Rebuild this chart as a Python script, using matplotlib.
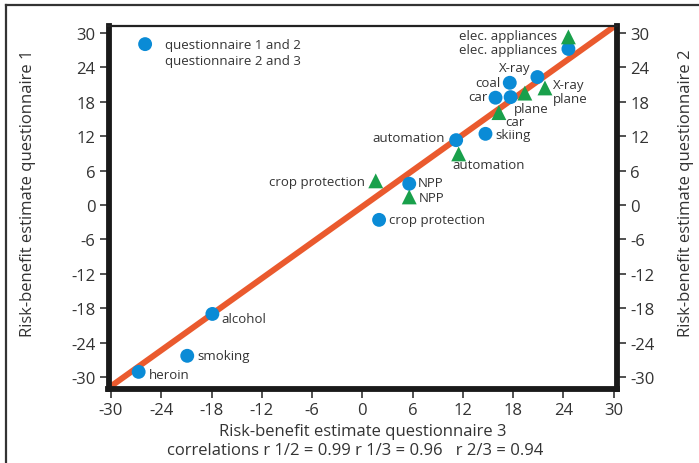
import matplotlib
matplotlib.use("Agg")
import matplotlib.pyplot as plt
from matplotlib.lines import Line2D

plt.rcParams['font.family'] = ['Open Sans', 'DejaVu Sans']

# questionnaire 3 (x) vs questionnaire 1 (y)
blue_labels = ["heroin", "smoking", "alcohol", "crop protection", "NPP",
               "automation", "skiing", "car", "coal", "plane", "X-ray",
               "elec. appliances"]
blue_q3 = [-26.7, -20.9, -17.9, 2.0, 5.6, 11.2, 14.7, 15.9, 17.6, 17.7, 20.9, 24.6]
blue_q1 = [-29.1, -26.3, -19.0, -2.6, 3.7, 11.3, 12.4, 18.7, 21.3, 18.8, 22.3, 27.2]

# questionnaire 3 (x) vs questionnaire 2 (y)
green_labels = ["elec. appliances", "X-ray", "plane", "car", "automation",
                "crop protection", "NPP"]
green_q3 = [24.6, 21.8, 19.4, 16.3, 11.5, 1.6, 5.6]
green_q2 = [29.3, 20.4, 19.5, 16.1, 8.9, 4.2, 1.4]

fit_x = [-30, 30]
fit_y = [-31.6, 31.05]

tick_values = list(range(-30, 31, 6))

# label offsets in pixels (dx, dy, ha)
blue_offsets = [(10, -3, 'left'), (10, 0, 'left'), (9, -5, 'left'),
                (10, 0, 'left'), (9, 1, 'left'), (-11, 3, 'right'),
                (10, -1, 'left'), (-8, 1, 'right'), (-9, 0, 'right'),
                (3, -11, 'left'), (-7, 10, 'right'), (-11, -1, 'right')]
green_offsets = [(-11, 1, 'right'), (8, 3, 'left'), (28, -5, 'left'),
                 (6, -9, 'left'), (-6, -11, 'left'), (-11, -1, 'right'),
                 (10, -1, 'left')]

W, H = 699, 464
fig = plt.figure(figsize=(W / 100, H / 100), dpi=100)
ax = fig.add_axes([108.5 / W, 1 - 389.5 / H, 508.5 / W, 362.5 / H])

txt = '#333333'
blue = '#0A8BD6'
green = '#19A04B'
orange = '#EA5A2E'

ax.plot(fit_x, fit_y, color=orange, lw=4.3, solid_capstyle='butt', zorder=2)
ax.scatter(blue_q3, blue_q1, s=100, color=blue, edgecolors='none', zorder=3)
ax.scatter(green_q3, green_q2, s=115, marker='^', color=green,
           edgecolors='none', zorder=3)

px = 0.72
for lab, x, y, (dx, dy, ha) in zip(blue_labels, blue_q3, blue_q1, blue_offsets):
    ax.annotate(lab, (x, y), xytext=(dx * px, dy * px), textcoords='offset points',
                ha=ha, va='center', fontsize=9.5, color=txt, zorder=4)
for lab, x, y, (dx, dy, ha) in zip(green_labels, green_q3, green_q2, green_offsets):
    ax.annotate(lab, (x, y), xytext=(dx * px, dy * px), textcoords='offset points',
                ha=ha, va='center', fontsize=9.5, color=txt, zorder=4)

ax.set_xlim(-30.3, 30.4)
ax.set_ylim(-32.0, 31.2)
ax.set_xticks(tick_values)
ax.set_yticks(tick_values)
ax.set_xticklabels([str(v) for v in tick_values])
ax.set_yticklabels([str(v) for v in tick_values])
for t in ax.get_xticklabels():
    if t.get_text() == '0':
        t.set_fontsize(14.5)

ax.tick_params(axis='both', direction='out', length=6.5, width=1.2,
               color=txt, labelcolor=txt, labelsize=12, pad=3)
ax.tick_params(axis='y', right=True, labelright=True)

for side in ['left', 'bottom', 'right']:
    ax.spines[side].set_linewidth(4.2)
    ax.spines[side].set_color('#1a1a1a')
ax.spines['top'].set_linewidth(1.6)
ax.spines['top'].set_color('#222222')

# legend
ax.scatter([0.072], [0.950], s=100, color=blue, edgecolors='none',
           transform=ax.transAxes, clip_on=False, zorder=3)
ax.text(0.111, 0.950, "questionnaire 1 and 2", transform=ax.transAxes,
        ha='left', va='center', fontsize=9.5, color=txt)
ax.text(0.111, 0.906, "questionnaire 2 and 3", transform=ax.transAxes,
        ha='left', va='center', fontsize=9.5, color=txt)

fig.text(28 / W, 1 - 193 / H, "Risk-benefit estimate questionnaire 1",
         rotation=90, ha='center', va='center', fontsize=12, color=txt)
fig.text(686 / W, 1 - 193 / H, "Risk-benefit estimate questionnaire 2",
         rotation=90, ha='center', va='center', fontsize=12, color=txt)
fig.text(363 / W, 1 - 432 / H, "Risk-benefit estimate questionnaire 3",
         ha='center', va='center', fontsize=12, color=txt)
fig.text(355 / W, 1 - 451 / H,
         "correlations r 1/2 = 0.99 r 1/3 = 0.96   r 2/3 = 0.94",
         ha='center', va='center', fontsize=12, color=txt)

# outer frame
fig.add_artist(Line2D([6 / W, 6 / W], [0, 1 - 6 / H], transform=fig.transFigure,
                      color='#333333', lw=1.6))
fig.add_artist(Line2D([6 / W, 1], [1 - 6 / H, 1 - 6 / H], transform=fig.transFigure,
                      color='#333333', lw=1.6))

fig.savefig("out.png", dpi=100)
